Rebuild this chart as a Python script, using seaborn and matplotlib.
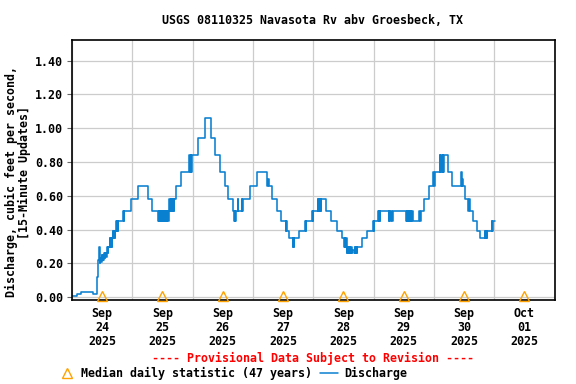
import pandas as pd
import matplotlib
matplotlib.use("Agg")
import matplotlib.pyplot as plt
import matplotlib.dates as mdates
from matplotlib.lines import Line2D
import seaborn as sns

# 15-minute discharge, written as change points (step series)
flow_times = [
    # Sep 24
    "09-24 00:00", "09-24 02:00", "09-24 03:30", "09-24 08:30", "09-24 09:45",
    "09-24 10:00", "09-24 10:15", "09-24 10:30", "09-24 10:45", "09-24 11:00",
    "09-24 11:15", "09-24 11:30", "09-24 11:45", "09-24 12:00", "09-24 12:15",
    "09-24 12:30", "09-24 12:45", "09-24 13:00", "09-24 13:15", "09-24 13:30",
    "09-24 13:45", "09-24 14:00", "09-24 14:15", "09-24 14:30", "09-24 15:00",
    "09-24 15:15", "09-24 15:30", "09-24 15:45", "09-24 16:00", "09-24 16:15",
    "09-24 16:30", "09-24 16:45", "09-24 17:00", "09-24 17:15", "09-24 17:30",
    "09-24 17:45", "09-24 18:00", "09-24 18:15", "09-24 18:30", "09-24 20:15",
    "09-24 20:30", "09-24 20:45", "09-24 23:30",
    # Sep 25
    "09-25 02:15", "09-25 06:15", "09-25 08:00", "09-25 10:15", "09-25 10:30",
    "09-25 10:45", "09-25 11:00", "09-25 11:15", "09-25 11:30", "09-25 11:45",
    "09-25 12:00", "09-25 12:15", "09-25 12:30", "09-25 12:45", "09-25 13:00",
    "09-25 13:15", "09-25 13:30", "09-25 13:45", "09-25 14:00", "09-25 14:15",
    "09-25 14:30", "09-25 14:45", "09-25 15:00", "09-25 15:15", "09-25 15:30",
    "09-25 15:45", "09-25 16:00", "09-25 16:15", "09-25 16:30", "09-25 16:45",
    "09-25 17:30", "09-25 19:30", "09-25 22:45", "09-25 23:00", "09-25 23:15",
    "09-25 23:30", "09-25 23:45",
    # Sep 26
    "09-26 02:00", "09-26 04:45", "09-26 07:30", "09-26 09:00", "09-26 10:45",
    "09-26 12:45", "09-26 14:00", "09-26 16:00", "09-26 16:30", "09-26 16:45",
    "09-26 17:00", "09-26 17:15", "09-26 18:00", "09-26 18:15", "09-26 19:30",
    "09-26 19:45", "09-26 20:00", "09-26 22:45",
    # Sep 27
    "09-27 01:45", "09-27 05:45", "09-27 06:00", "09-27 06:15", "09-27 07:30",
    "09-27 09:45", "09-27 11:00", "09-27 13:00", "09-27 13:15", "09-27 13:30",
    "09-27 14:30", "09-27 15:45", "09-27 16:00", "09-27 16:15", "09-27 16:30",
    "09-27 18:30", "09-27 20:45", "09-27 21:00", "09-27 21:15", "09-27 23:30",
    "09-27 23:45",
    # Sep 28
    "09-28 00:00", "09-28 01:45", "09-28 02:00", "09-28 02:15", "09-28 02:30",
    "09-28 02:45", "09-28 03:00", "09-28 03:15", "09-28 05:15", "09-28 07:15",
    "09-28 09:15", "09-28 11:15", "09-28 12:15", "09-28 12:30", "09-28 12:45",
    "09-28 13:00", "09-28 13:15", "09-28 13:30", "09-28 13:45", "09-28 14:00",
    "09-28 14:15", "09-28 14:30", "09-28 14:45", "09-28 15:00", "09-28 15:15",
    "09-28 15:30", "09-28 16:15", "09-28 16:30", "09-28 16:45", "09-28 17:00",
    "09-28 17:15", "09-28 17:30", "09-28 19:15", "09-28 21:30", "09-28 23:45",
    # Sep 29
    "09-29 00:00", "09-29 00:15", "09-29 01:45", "09-29 02:00", "09-29 02:15",
    "09-29 02:30", "09-29 02:45", "09-29 06:00", "09-29 06:15", "09-29 06:30",
    "09-29 06:45", "09-29 07:30", "09-29 07:45", "09-29 13:00", "09-29 13:15",
    "09-29 13:30", "09-29 13:45", "09-29 14:00", "09-29 14:15", "09-29 14:30",
    "09-29 14:45", "09-29 15:00", "09-29 15:15", "09-29 15:30", "09-29 18:15",
    "09-29 18:30", "09-29 18:45", "09-29 20:00", "09-29 22:00", "09-29 23:45",
    # Sep 30
    "09-30 00:00", "09-30 00:15", "09-30 02:15", "09-30 02:30", "09-30 02:45",
    "09-30 03:15", "09-30 03:30", "09-30 03:45", "09-30 04:00", "09-30 05:30",
    "09-30 07:15", "09-30 10:45", "09-30 11:00", "09-30 11:15", "09-30 11:30",
    "09-30 12:15", "09-30 13:45", "09-30 14:00", "09-30 14:15", "09-30 15:30",
    "09-30 17:00", "09-30 18:30", "09-30 20:15", "09-30 20:30", "09-30 20:45",
    "09-30 21:00", "09-30 21:15", "09-30 23:00", "09-30 23:15", "09-30 23:30",
    # Oct 1
    "10-01 00:30",
]
flow_cfs = [
    # Sep 24
    0.01, 0.02, 0.03, 0.02, 0.06,
    0.12, 0.18, 0.22, 0.30, 0.20,
    0.23, 0.21, 0.25, 0.22, 0.25,
    0.22, 0.26, 0.23, 0.26, 0.24,
    0.26, 0.30, 0.26, 0.30, 0.35,
    0.30, 0.35, 0.30, 0.35, 0.39,
    0.35, 0.39, 0.35, 0.39, 0.45,
    0.39, 0.45, 0.39, 0.45, 0.51,
    0.45, 0.51, 0.58,
    # Sep 25
    0.66, 0.58, 0.51, 0.45, 0.51,
    0.45, 0.51, 0.45, 0.51, 0.45,
    0.51, 0.45, 0.51, 0.45, 0.51,
    0.45, 0.51, 0.45, 0.51, 0.45,
    0.51, 0.58, 0.51, 0.58, 0.51,
    0.58, 0.51, 0.58, 0.51, 0.58,
    0.66, 0.74, 0.84, 0.74, 0.84,
    0.74, 0.84,
    # Sep 26
    0.94, 1.06, 0.94, 0.84, 0.74,
    0.66, 0.58, 0.51, 0.45, 0.51,
    0.45, 0.51, 0.58, 0.51, 0.58,
    0.51, 0.58, 0.66,
    # Sep 27
    0.74, 0.66, 0.70, 0.66, 0.58,
    0.51, 0.45, 0.39, 0.45, 0.39,
    0.35, 0.30, 0.35, 0.30, 0.35,
    0.39, 0.45, 0.39, 0.45, 0.51,
    0.45,
    # Sep 28
    0.51, 0.58, 0.51, 0.58, 0.51,
    0.58, 0.51, 0.58, 0.51, 0.45,
    0.39, 0.35, 0.30, 0.35, 0.30,
    0.35, 0.26, 0.30, 0.26, 0.30,
    0.26, 0.30, 0.26, 0.30, 0.26,
    0.28, 0.26, 0.30, 0.26, 0.30,
    0.26, 0.30, 0.35, 0.39, 0.45,
    # Sep 29
    0.39, 0.45, 0.51, 0.45, 0.51,
    0.45, 0.51, 0.45, 0.51, 0.45,
    0.51, 0.45, 0.51, 0.45, 0.51,
    0.45, 0.51, 0.45, 0.51, 0.45,
    0.51, 0.45, 0.51, 0.45, 0.51,
    0.45, 0.51, 0.58, 0.66, 0.74,
    # Sep 30
    0.66, 0.74, 0.84, 0.74, 0.84,
    0.74, 0.84, 0.74, 0.84, 0.74,
    0.66, 0.74, 0.66, 0.70, 0.66,
    0.58, 0.51, 0.58, 0.51, 0.45,
    0.39, 0.35, 0.39, 0.35, 0.39,
    0.35, 0.39, 0.45, 0.39, 0.45,
    # Oct 1
    0.45,
]

# daily median statistic (plotted at noon)
median_days = ["09-24", "09-25", "09-26", "09-27", "09-28", "09-29", "09-30", "10-01"]
median_cfs = [0.01, 0.01, 0.01, 0.01, 0.01, 0.01, 0.01, 0.01]

flow = pd.DataFrame({
    "time": pd.to_datetime(["2025-" + t for t in flow_times]),
    "cfs": flow_cfs,
})
median = pd.DataFrame({
    "time": pd.to_datetime(["2025-" + d + " 12:00" for d in median_days]),
    "cfs": median_cfs,
})

sns.set_theme(style="whitegrid")
plt.rcParams["font.family"] = ["DejaVu Sans Mono"]
plt.rcParams["font.weight"] = "bold"
plt.rcParams["font.size"] = 8.4
plt.rcParams["text.color"] = "black"

BLUE = "#0a80d0"
ORANGE = "#ffa200"
FS = 8.4

fig = plt.figure(figsize=(5.76, 3.84), dpi=100)
ax = fig.add_axes([0.125, 0.2188, 0.8377, 0.677])

sns.lineplot(data=flow, x="time", y="cfs", ax=ax, drawstyle="steps-post",
             color=BLUE, lw=1.15, estimator=None)
sns.lineplot(data=median, x="time", y="cfs", ax=ax, linestyle="", marker="^",
             ms=6.5, mfc="none", mec=ORANGE, mew=1.0, color=ORANGE,
             estimator=None, clip_on=False, zorder=5)

ax.set_xlim(pd.Timestamp("2025-09-24"), pd.Timestamp("2025-10-02"))
ax.set_ylim(-0.016, 1.522)
ax.set_yticks([0.0, 0.2, 0.4, 0.6, 0.8, 1.0, 1.2, 1.4])
ax.yaxis.set_major_formatter(plt.FormatStrFormatter("%.2f"))

ax.xaxis.set_major_locator(mdates.DayLocator())
ax.xaxis.set_major_formatter(plt.NullFormatter())
ax.xaxis.set_minor_locator(mdates.HourLocator(byhour=[12]))
ax.xaxis.set_minor_formatter(mdates.DateFormatter("%b\n%d\n%Y"))
ax.tick_params(axis="x", which="both", length=0, pad=5, labelsize=FS,
               labelcolor="black")
ax.tick_params(axis="y", which="major", length=3.6, width=0.8, color="#666666",
               left=True, pad=3, labelsize=FS, labelcolor="black")
for lab in ax.xaxis.get_minorticklabels():
    lab.set_linespacing(1.1)

ax.grid(True, which="major", color="#cccccc", lw=0.9)
ax.grid(False, which="minor")
for s in ax.spines.values():
    s.set_color("black")
    s.set_linewidth(1.2)
ax.set_xlabel("")
ax.set_ylabel("")

fig.text(0.5434, 0.946, "USGS 08110325 Navasota Rv abv Groesbeck, TX",
         ha="center", va="center", fontsize=FS)
fig.text(0.0203, 0.5273, "Discharge, cubic feet per second,",
         rotation=90, ha="center", va="center", fontsize=FS)
fig.text(0.0417, 0.5505, "[15-Minute Updates]",
         rotation=90, ha="center", va="center", fontsize=FS)
fig.text(0.5434, 0.0669, "---- Provisional Data Subject to Revision ----",
         ha="center", va="center", color="red", fontsize=FS)

# legend row
fig.add_artist(Line2D([0.1158], [0.0299], transform=fig.transFigure, marker="^",
                      ms=6.5, mfc="none", mec=ORANGE, mew=1.0, linestyle=""))
fig.text(0.1401, 0.0279, "Median daily statistic (47 years)", ha="left",
         va="center", fontsize=FS)
fig.add_artist(Line2D([0.5549, 0.5861], [0.0299, 0.0299], transform=fig.transFigure,
                      color=BLUE, lw=1.1))
fig.text(0.5972, 0.0279, "Discharge", ha="left", va="center", fontsize=FS)

fig.savefig("out.png", dpi=100)
